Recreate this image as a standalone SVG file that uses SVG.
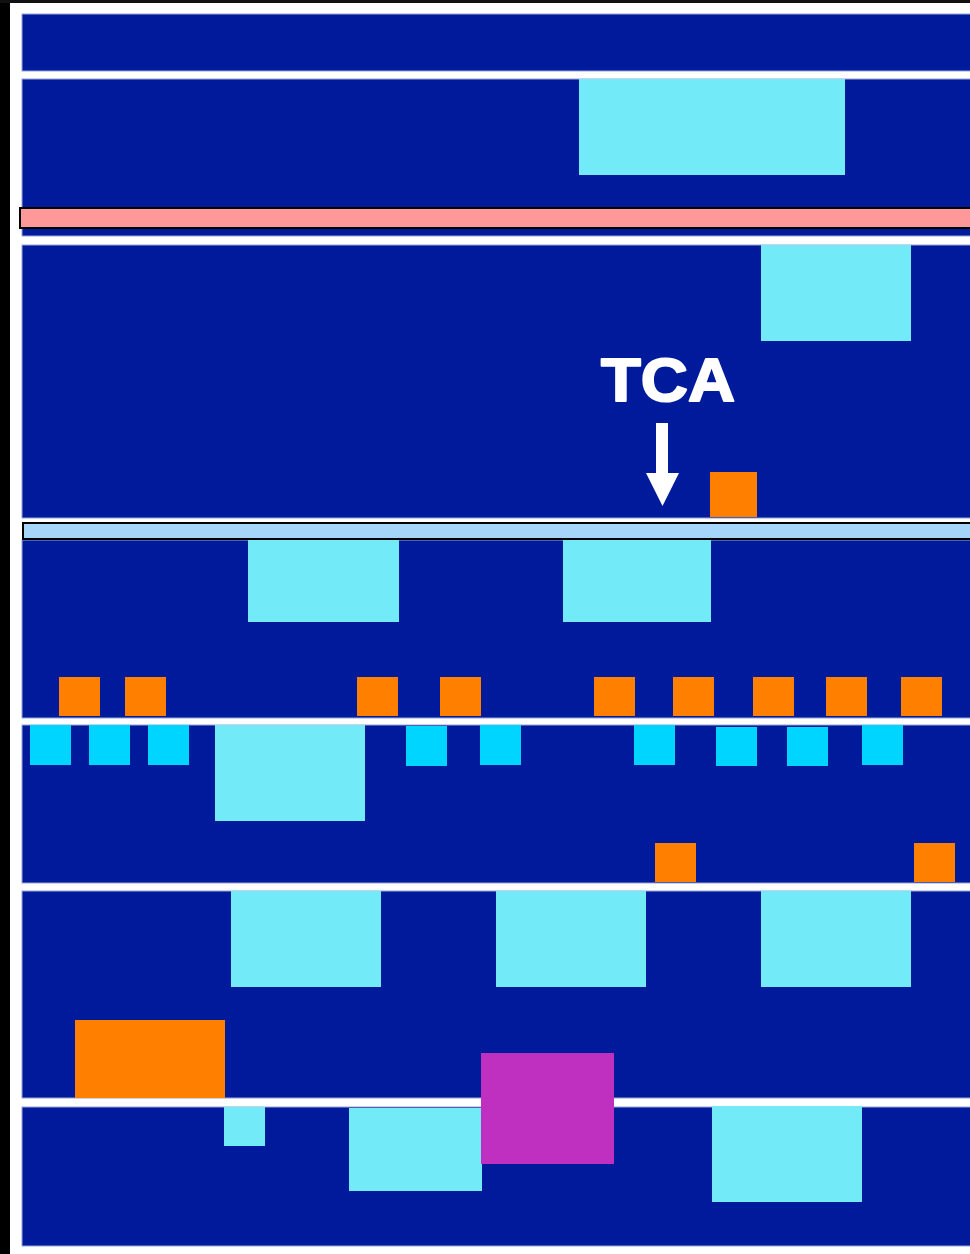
<svg xmlns="http://www.w3.org/2000/svg" width="970" height="1254" viewBox="0 0 970 1254">
<style>
.p{fill:#001A9C;stroke:#9aa3d6;stroke-width:1}
.lc{fill:#73EAF7}
.or{fill:#FF7F00}
.cy{fill:#00D5FF}
.mg{fill:#C030C0}
</style>
<rect width="970" height="1254" fill="#ffffff"/>
<rect x="0" y="0" width="10" height="1254" fill="#000"/>
<rect x="0" y="0" width="970" height="3" fill="#111"/>
<g id="panels">
<rect class="p" x="22" y="14" width="960" height="57"/>
<rect class="p" x="22" y="79" width="960" height="157"/>
<rect class="p" x="22" y="245" width="960" height="273"/>
<rect class="p" x="22" y="540" width="960" height="178"/>
<rect class="p" x="22" y="725" width="960" height="158"/>
<rect class="p" x="22" y="891" width="960" height="207"/>
<rect class="p" x="22" y="1107" width="960" height="139"/>
</g>
<g id="bars">
<rect x="20" y="208" width="960" height="20" fill="#FF9999" stroke="#000" stroke-width="2"/>
<rect x="23" y="523" width="960" height="16" fill="#A6D5FA" stroke="#000" stroke-width="2"/>
</g>
<g id="lightboxes">
<rect class="lc" x="579" y="79" width="266" height="96"/>
<rect class="lc" x="761" y="245" width="150" height="96"/>
<rect class="lc" x="248" y="540" width="151" height="82"/>
<rect class="lc" x="563" y="540" width="148" height="82"/>
<rect class="lc" x="215" y="725" width="150" height="96"/>
<rect class="lc" x="231" y="891" width="150" height="96"/>
<rect class="lc" x="496" y="891" width="150" height="96"/>
<rect class="lc" x="761" y="891" width="150" height="96"/>
<rect class="lc" x="224" y="1107" width="41" height="39"/>
<rect class="lc" x="349" y="1108" width="133" height="83"/>
<rect class="lc" x="712" y="1106" width="150" height="96"/>
</g>
<g id="orange">
<rect class="or" x="710" y="472" width="47" height="45"/>
<rect class="or" x="59" y="677" width="41" height="39"/>
<rect class="or" x="125" y="677" width="41" height="39"/>
<rect class="or" x="357" y="677" width="41" height="39"/>
<rect class="or" x="440" y="677" width="41" height="39"/>
<rect class="or" x="594" y="677" width="41" height="39"/>
<rect class="or" x="673" y="677" width="41" height="39"/>
<rect class="or" x="753" y="677" width="41" height="39"/>
<rect class="or" x="826" y="677" width="41" height="39"/>
<rect class="or" x="901" y="677" width="41" height="39"/>
<rect class="or" x="655" y="843" width="41" height="39"/>
<rect class="or" x="914" y="843" width="41" height="39"/>
<rect class="or" x="75" y="1020" width="150" height="78"/>
</g>
<g id="cyan">
<rect class="cy" x="30" y="725" width="41" height="40"/>
<rect class="cy" x="89" y="725" width="41" height="40"/>
<rect class="cy" x="148" y="725" width="41" height="40"/>
<rect class="cy" x="406" y="726" width="41" height="40"/>
<rect class="cy" x="480" y="725" width="41" height="40"/>
<rect class="cy" x="634" y="725" width="41" height="40"/>
<rect class="cy" x="716" y="727" width="41" height="39"/>
<rect class="cy" x="787" y="727" width="41" height="39"/>
<rect class="cy" x="862" y="725" width="41" height="40"/>
</g>
<g id="magenta">
<rect class="mg" x="481" y="1053" width="133" height="111"/>
</g>
<g id="tca">
<text x="668" y="401" font-family="Liberation Sans, Arial, sans-serif" font-weight="bold" font-size="62" fill="#fff" stroke="#fff" stroke-width="2" stroke-linejoin="round" text-anchor="middle" textLength="134" lengthAdjust="spacingAndGlyphs">TCA</text>
</g>
<g id="connectors">
<path d="M656,423 H668 V473 H679 L662.5,506 L646,473 H656 Z" fill="#fff"/>
</g>
</svg>
